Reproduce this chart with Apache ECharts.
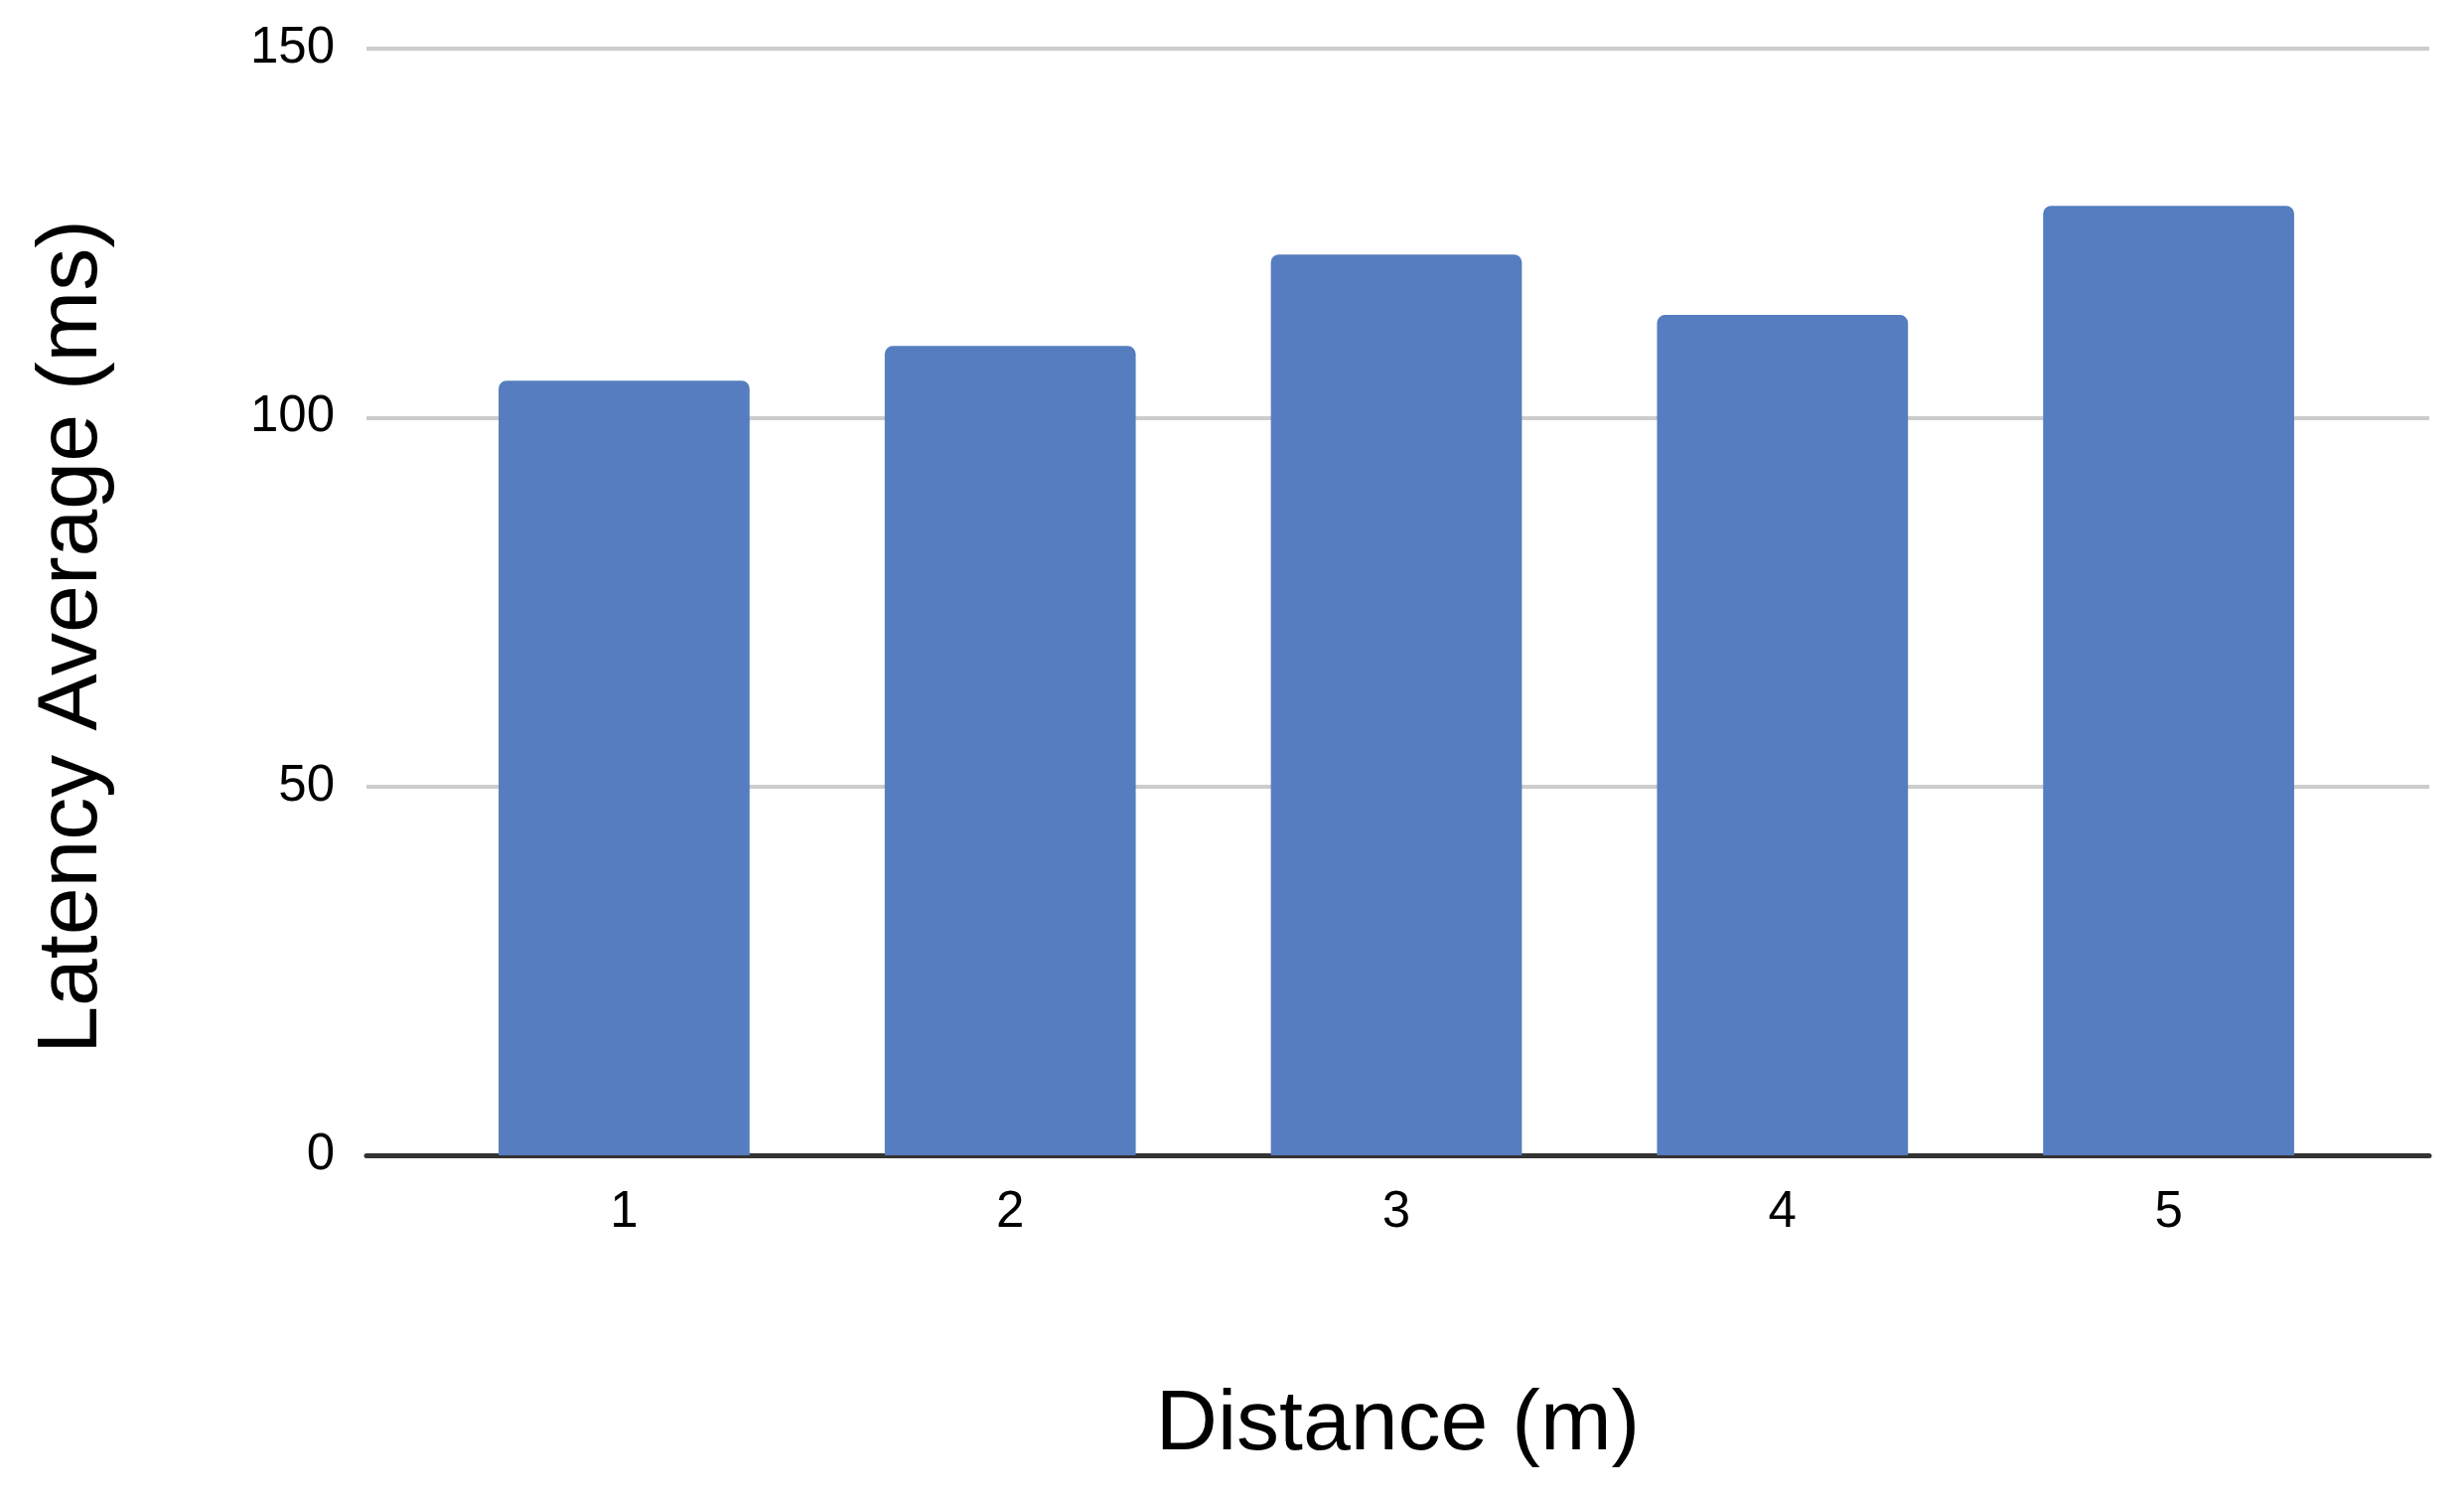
<!DOCTYPE html>
<html>
<head>
<meta charset="utf-8">
<script src="https://cdn.jsdelivr.net/npm/echarts@6/dist/echarts.min.js"></script>
<style>
html,body{margin:0;padding:0;background:#fff;}
#chart{width:2481px;height:1511px;}
</style>
</head>
<body>
<div id="chart"></div>
<script>
const categories = ['1', '2', '3', '4', '5'];
const latencyValues = [105.0, 109.7, 122.1, 113.9, 128.7];
const yTicks = [0, 50, 100, 150];
const xTitle = 'Distance (m)';
const yTitle = 'Latency Average (ms)';

const chart = echarts.init(document.getElementById('chart'), null, {renderer: 'canvas'});
const font = 'Liberation Sans, Arial, sans-serif';
const yMin = yTicks[0], yMax = yTicks[yTicks.length - 1];
chart.setOption({
  animation: false,
  backgroundColor: '#ffffff',
  grid: [
    {left: 369, right: 35, top: 49, bottom: 348, containLabel: false},
    {left: 434, right: 103, top: 49, bottom: 348, containLabel: false}
  ],
  xAxis: [
    {
      gridIndex: 0,
      type: 'value', min: 0, max: 1,
      name: xTitle,
      nameLocation: 'middle',
      nameGap: 229,
      nameTextStyle: {fontFamily: font, fontSize: 86, color: '#000'},
      axisLine: {show: true, onZero: false, lineStyle: {color: '#333333', width: 5}},
      axisTick: {show: false},
      axisLabel: {show: false},
      splitLine: {show: false}
    },
    {
      gridIndex: 1,
      type: 'category',
      data: categories,
      axisLine: {show: false},
      axisTick: {show: false},
      axisLabel: {fontFamily: font, fontSize: 51, color: '#000', margin: 32}
    }
  ],
  yAxis: [
    {
      gridIndex: 0,
      type: 'value',
      min: yMin, max: yMax, interval: 50,
      axisLine: {show: false},
      axisTick: {show: false},
      axisLabel: {fontFamily: font, fontSize: 51, color: '#000', margin: 32},
      splitLine: {show: true, lineStyle: {color: '#cccccc', width: 4}}
    },
    {
      gridIndex: 1,
      type: 'value',
      min: yMin, max: yMax, interval: 50,
      axisLine: {show: false},
      axisTick: {show: false},
      axisLabel: {show: false},
      splitLine: {show: false}
    }
  ],
  graphic: [{
    type: 'text',
    x: 73, y: 641,
    rotation: Math.PI / 2,
    style: {
      text: yTitle,
      fontFamily: font, fontSize: 86, fill: '#000',
      align: 'center', verticalAlign: 'middle'
    }
  }],
  series: [{
    type: 'bar',
    xAxisIndex: 1, yAxisIndex: 1,
    data: latencyValues,
    barCategoryGap: '35%',
    itemStyle: {color: '#557dbf', borderRadius: [8, 8, 0, 0]},
    z: 1
  }]
});
</script>
</body>
</html>
